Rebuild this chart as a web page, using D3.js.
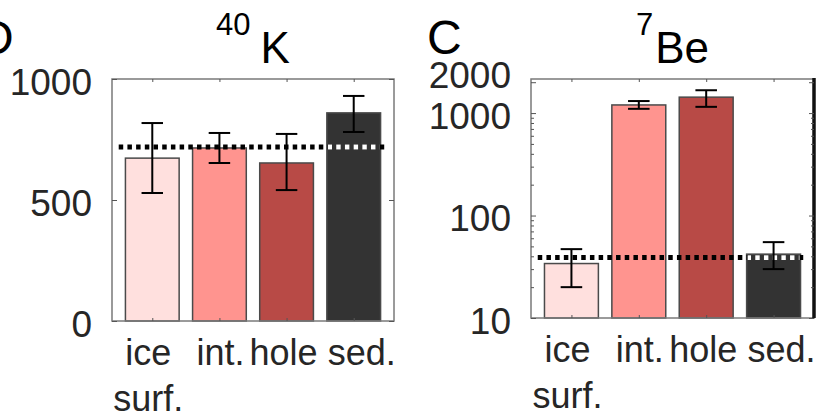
<!DOCTYPE html>
<html><head><meta charset="utf-8">
<script src="https://cdn.jsdelivr.net/npm/d3@7"></script>
<style>
html,body{margin:0;padding:0;background:#fff;}
svg{display:block;font-family:"Liberation Sans",Arial,Helvetica,sans-serif;}
</style></head>
<body>
<svg id="chart" width="819" height="417"></svg>
<script>
// ---- data ----
const categories = ["ice surf.", "int.", "hole", "sed."];
const categoryLines = [["ice", "surf."], ["int."], ["hole"], ["sed."]];
const barColors = ["#FFE0DE", "#FF948F", "#B84A46", "#333333"];

const k40Values = [673, 715, 653, 860];
const k40Low = [529, 653, 541, 781];
const k40High = [818, 777, 773, 930];
const k40Reference = 719;
const k40Ticks = [0, 500, 1000];

const be7Values = [34, 1200, 1430, 42];
const be7Low = [20, 1100, 1150, 30];
const be7High = [47, 1310, 1670, 55];
const be7Reference = 39;
const be7Ticks = [10, 100, 1000, 2000];

// layout: small horizontal nudges of the category labels (px)
const labelNudge = [-4, 1, -3, 8];

const svg = d3.select("#chart");
const tickColor = "#262626";
const frameColor = "#7a7a7a";

function panel(cfg) {
  const g = svg.append("g");
  const x = d3.scaleLinear().domain([0.4, 4.6]).range([cfg.left, cfg.right]);
  const y = cfg.y;
  const data = categories.map((c, i) => ({
    c, i, pos: i + 1, v: cfg.values[i], lo: cfg.low[i], hi: cfg.high[i], color: barColors[i]
  }));
  const base = y.domain()[0];

  // bars
  g.selectAll("rect.bar").data(data).enter().append("rect")
    .attr("class", "bar")
    .attr("x", d => x(d.pos - 0.4))
    .attr("width", d => x(d.pos + 0.4) - x(d.pos - 0.4))
    .attr("y", d => y(d.v))
    .attr("height", d => y(base) - y(d.v))
    .attr("fill", d => d.color)
    .attr("stroke", "#4a4a4a")
    .attr("stroke-width", 1.5);

  // reference dotted line
  const ry = y(cfg.reference);
  g.append("line")
    .attr("x1", x(0.5)).attr("x2", x(4.5)).attr("y1", ry).attr("y2", ry)
    .attr("stroke", "#000").attr("stroke-width", 5)
    .attr("stroke-dasharray", "4.5 4.2");
  // white dots over the dark bar
  data.filter(d => d.c === "sed.").forEach(d => {
    const id = cfg.id + "clip" + d.i;
    svg.append("clipPath").attr("id", id).append("rect")
      .attr("x", x(d.pos - 0.4) + 1).attr("width", x(d.pos + 0.4) - x(d.pos - 0.4) - 2)
      .attr("y", y(d.v) + 1).attr("height", y(base) - y(d.v));
    g.append("line")
      .attr("clip-path", `url(#${id})`)
      .attr("x1", x(0.5)).attr("x2", x(4.5)).attr("y1", ry).attr("y2", ry)
      .attr("stroke", "#fff").attr("stroke-width", 5)
      .attr("stroke-dasharray", "4.5 4.2");
  });

  // error bars
  const eb = g.selectAll("g.err").data(data).enter().append("g").attr("class", "err")
    .attr("stroke", "#000").attr("stroke-width", 2);
  const cap = 0.16;
  eb.append("line").attr("x1", d => x(d.pos)).attr("x2", d => x(d.pos))
    .attr("y1", d => y(d.lo)).attr("y2", d => y(d.hi));
  eb.append("line").attr("x1", d => x(d.pos - cap)).attr("x2", d => x(d.pos + cap))
    .attr("y1", d => y(d.lo)).attr("y2", d => y(d.lo));
  eb.append("line").attr("x1", d => x(d.pos - cap)).attr("x2", d => x(d.pos + cap))
    .attr("y1", d => y(d.hi)).attr("y2", d => y(d.hi));

  const top = y.range()[1], bottom = y.range()[0];

  // frame
  g.append("rect").attr("x", cfg.left).attr("y", top)
    .attr("width", cfg.right - cfg.left).attr("height", bottom - top)
    .attr("fill", "none").attr("stroke", frameColor).attr("stroke-width", 1.5);
  if (cfg.thickRight) {
    g.append("line").attr("x1", cfg.right).attr("x2", cfg.right)
      .attr("y1", top - 1).attr("y2", bottom)
      .attr("stroke", "#111").attr("stroke-width", 3.5);
  }

  // inward ticks on all sides
  g.append("g").attr("transform", `translate(${cfg.left},0)`)
    .call(d3.axisRight(y).tickValues(cfg.ticks).tickSize(5).tickFormat(""));
  g.append("g").attr("transform", `translate(${cfg.right},0)`)
    .call(d3.axisLeft(y).tickValues(cfg.ticks).tickSize(5).tickFormat(""));
  if (cfg.minor) {
    g.append("g").attr("transform", `translate(${cfg.left},0)`)
      .call(d3.axisRight(y).tickValues(cfg.minor).tickSize(3).tickFormat(""));
    g.append("g").attr("transform", `translate(${cfg.right},0)`)
      .call(d3.axisLeft(y).tickValues(cfg.minor).tickSize(3).tickFormat(""));
  }
  g.append("g").attr("transform", `translate(0,${top})`)
    .call(d3.axisBottom(x).tickValues([1, 2, 3, 4]).tickSize(3).tickFormat(""));
  g.append("g").attr("transform", `translate(0,${bottom})`)
    .call(d3.axisTop(x).tickValues([1, 2, 3, 4]).tickSize(3).tickFormat(""));
  g.selectAll(".domain").remove();
  g.selectAll(".tick line").attr("stroke", "#555").attr("stroke-width", 1);

  // y tick labels
  g.selectAll("text.ylab").data(cfg.ticks).enter().append("text")
    .attr("class", "ylab")
    .attr("x", cfg.left - 20)
    .attr("y", d => y(d) + 3 + (cfg.labelShift ? cfg.labelShift(d) : 0))
    .attr("dy", "0.35em")
    .attr("text-anchor", "end")
    .attr("font-size", 37)
    .attr("fill", tickColor)
    .text(d => d);

  // category labels
  const cl = g.selectAll("text.xlab").data(data).enter().append("text")
    .attr("class", "xlab")
    .attr("text-anchor", "middle")
    .attr("font-size", 36)
    .attr("fill", tickColor);
  cl.selectAll("tspan").data(d => categoryLines[d.i].map(t => ({t, d})))
    .enter().append("tspan")
    .attr("x", o => x(o.d.pos) + labelNudge[o.d.i])
    .attr("y", (o, j) => bottom + 44 + j * 46)
    .text(o => o.t);

  // title with superscript
  const t = g.append("text").attr("x", (cfg.left + cfg.right) / 2).attr("y", 63)
    .attr("text-anchor", "middle").attr("fill", "#000");
  t.append("tspan").attr("font-size", 31).attr("dy", -28).text(cfg.sup);
  t.append("tspan").attr("font-size", 44).attr("dy", 28).attr("dx", cfg.titleGap).text(cfg.el);

  // panel letter
  svg.append("text").attr("x", cfg.letterX).attr("y", 54)
    .attr("font-size", 48).attr("fill", "#000").text(cfg.letter);
}

panel({
  id: "k",
  left: 112, right: 394,
  y: d3.scaleLinear().domain([0, 1000]).range([321, 79]),
  values: k40Values, low: k40Low, high: k40High, reference: k40Reference,
  ticks: k40Ticks, sup: "40", el: "K", titleGap: 10, letter: "D", letterX: -21
});

panel({
  id: "b",
  left: 531, right: 814,
  y: d3.scaleLog().domain([10, 2150]).range([318, 79]),
  values: be7Values, low: be7Low, high: be7High, reference: be7Reference,
  ticks: be7Ticks,
  minor: [20,30,40,50,60,70,80,90,200,300,400,500,600,700,800,900],
  labelShift: d => d === 2000 ? -10 : 0,
  sup: "7", el: "Be", titleGap: 2, letter: "C", letterX: 427, thickRight: true
});
</script>
</body></html>
